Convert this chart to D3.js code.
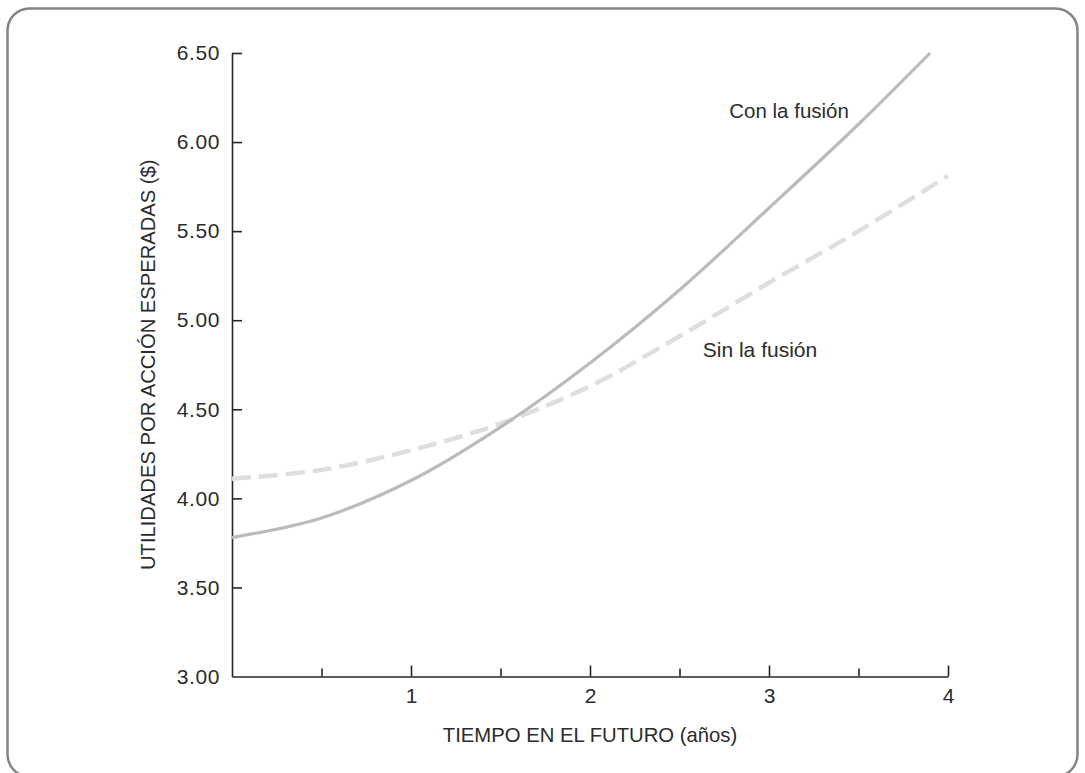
<!DOCTYPE html>
<html>
<head>
<meta charset="utf-8">
<script src="https://cdn.jsdelivr.net/npm/d3@7"></script>
<style>
  html, body { margin: 0; padding: 0; background: #ffffff; }
  svg { display: block; }
  text { font-family: "Liberation Sans", Arial, sans-serif; fill: #2b2b2b; }
</style>
</head>
<body>
<svg id="chart" width="1085" height="773"></svg>
<script>
// ---- data ----
const xTickValues = [1, 2, 3, 4];
const xMinorTickValues = [0.5, 1.5, 2.5, 3.5];
const yTickValues = [3.0, 3.5, 4.0, 4.5, 5.0, 5.5, 6.0, 6.5];

const conYears = [0, 0.5, 1.0, 1.5, 2.0, 2.5, 3.0, 3.5, 3.9];
const conValues = [3.78, 3.89, 4.10, 4.40, 4.76, 5.17, 5.63, 6.10, 6.50];

const sinYears = [0, 0.5, 1.0, 1.5, 2.0, 2.5, 3.0, 3.5, 4.0];
const sinValues = [4.11, 4.16, 4.27, 4.42, 4.63, 4.91, 5.21, 5.50, 5.81];

const seriesLabels = ["Con la fusión", "Sin la fusión"];
const xTitle = "TIEMPO EN EL FUTURO (años)";
const yTitle = "UTILIDADES POR ACCIÓN ESPERADAS ($)";

// ---- drawing ----
const svg = d3.select("#chart");

// frame
svg.append("rect")
  .attr("x", 7.5).attr("y", 8.5)
  .attr("width", 1070).attr("height", 768)
  .attr("rx", 22).attr("ry", 22)
  .attr("fill", "none")
  .attr("stroke", "#858585")
  .attr("stroke-width", 2.5);

const x = d3.scaleLinear().domain([0, 4]).range([232, 948]);
const y = d3.scaleLinear().domain([3, 6.5]).range([676.5, 53]);

const axisColor = "#262626";

// Y axis
const yAxis = svg.append("g")
  .attr("transform", `translate(${x(0)},0)`)
  .call(d3.axisLeft(y)
    .tickValues(yTickValues)
    .tickFormat(d3.format(".2f"))
    .tickSizeInner(-10)
    .tickSizeOuter(0)
    .tickPadding(12));
yAxis.select(".domain").attr("stroke", axisColor).attr("stroke-width", 1.6);
yAxis.selectAll(".tick line").attr("stroke", axisColor).attr("stroke-width", 1.6);
yAxis.selectAll(".tick text")
  .style("font-family", "'Liberation Sans', Arial, sans-serif")
  .style("font-size", "21px")
  .style("letter-spacing", "0.6px")
  .attr("fill", "#2b2b2b");
yAxis.selectAll(".tick").filter(d => d === 3).select("line").remove();

// X axis (major)
const xAxis = svg.append("g")
  .attr("transform", `translate(0,${y(3)})`)
  .call(d3.axisBottom(x)
    .tickValues(xTickValues)
    .tickFormat(d3.format("d"))
    .tickSizeInner(-11)
    .tickSizeOuter(0)
    .tickPadding(12));
xAxis.select(".domain").attr("stroke", axisColor).attr("stroke-width", 1.6);
xAxis.selectAll(".tick line").attr("stroke", axisColor).attr("stroke-width", 1.6);
xAxis.selectAll(".tick text")
  .style("font-family", "'Liberation Sans', Arial, sans-serif")
  .style("font-size", "21px")
  .attr("fill", "#2b2b2b");

// X axis (minor)
const xMinor = svg.append("g")
  .attr("transform", `translate(0,${y(3)})`)
  .call(d3.axisBottom(x)
    .tickValues(xMinorTickValues)
    .tickFormat("")
    .tickSizeInner(-8)
    .tickSizeOuter(0));
xMinor.select(".domain").remove();
xMinor.selectAll(".tick line").attr("stroke", axisColor).attr("stroke-width", 1.6);

// lines
const line = d3.line()
  .x(d => x(d[0]))
  .y(d => y(d[1]))
  .curve(d3.curveCatmullRom.alpha(0.5));

const sinData = sinYears.map((v, i) => [v, sinValues[i]]);
const conData = conYears.map((v, i) => [v, conValues[i]]);

svg.append("path")
  .datum(sinData)
  .attr("d", line)
  .attr("fill", "none")
  .attr("stroke", "#dedede")
  .attr("stroke-width", 4.5)
  .attr("stroke-dasharray", "19,8");

svg.append("path")
  .datum(conData)
  .attr("d", line)
  .attr("fill", "none")
  .attr("stroke", "#bbbbbb")
  .attr("stroke-width", 3.2);

// series labels
svg.append("text")
  .attr("x", x(2.778))
  .attr("y", y(6.135))
  .style("font-size", "20.5px")
  .text(seriesLabels[0]);

svg.append("text")
  .attr("x", x(2.63))
  .attr("y", y(4.795))
  .style("font-size", "21px")
  .text(seriesLabels[1]);

// axis titles
svg.append("text")
  .attr("x", x(2))
  .attr("y", 741.5)
  .attr("text-anchor", "middle")
  .style("font-size", "20.3px")
  .text(xTitle);

svg.append("text")
  .attr("transform", `translate(155,${(y(3) + y(6.5)) / 2}) rotate(-90)`)
  .attr("text-anchor", "middle")
  .style("font-size", "20.2px")
  .text(yTitle);
</script>
</body>
</html>
